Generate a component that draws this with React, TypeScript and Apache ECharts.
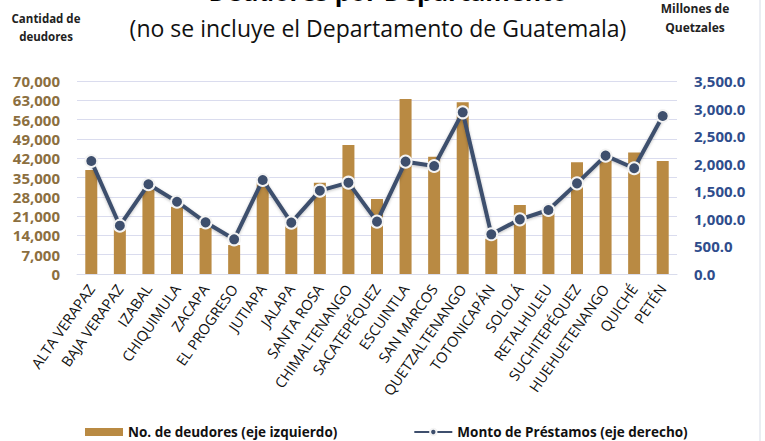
import React, { useEffect, useRef } from "react";
import * as echarts from "echarts";

const categories = [
  "ALTA VERAPAZ", "BAJA VERAPAZ", "IZABAL", "CHIQUIMULA", "ZACAPA", "EL PROGRESO",
  "JUTIAPA", "JALAPA", "SANTA ROSA", "CHIMALTENANGO", "SACATEPÉQUEZ", "ESCUINTLA",
  "SAN MARCOS", "QUETZALTENANGO", "TOTONICAPÁN", "SOLOLÁ", "RETALHULEU",
  "SUCHITEPÉQUEZ", "HUEHUETENANGO", "QUICHÉ", "PETÉN",
];
const deudores = [
  37700, 17000, 30800, 24400, 16700, 10500, 33500, 17400, 33100, 46800, 27200,
  63500, 42500, 62300, 12800, 25000, 22000, 40500, 42000, 44100, 41000,
];
const montos = [
  2050, 876, 1627, 1311, 937, 629, 1705, 931, 1511, 1656, 949, 2037, 1959, 2932,
  720, 991, 1161, 1644, 2146, 1917, 2865,
];
const leftTicks = { min: 0, max: 70000, interval: 7000 };
const rightTicks = { min: 0, max: 3500, interval: 500 };

const FONT = "'Open Sans', Lato, sans-serif";

export default function App() {
  const ref = useRef<HTMLDivElement>(null);
  useEffect(() => {
    if (!ref.current) return;
    document.body.style.margin = "0";
    const chart = echarts.init(ref.current, null, { renderer: "svg" });
    chart.setOption({
      animation: false,
      backgroundColor: "#ffffff",
      textStyle: { fontFamily: FONT },
      grid: { left: 77, right: 88, top: 81, bottom: 167, containLabel: false },
      graphic: [
        {
          type: "text", x: 388, y: 3,
          style: { text: "Deudores por Departamento", font: `bold 25px ${FONT}`, fill: "#000", align: "center", verticalAlign: "bottom" },
        },
        {
          type: "text", x: 378, y: 28,
          style: { text: "(no se incluye el Departamento de Guatemala)", font: `23px ${FONT}`, fill: "#111", align: "center", verticalAlign: "middle" },
        },
        {
          type: "text", x: 46, y: 27,
          style: { text: "Cantidad de\ndeudores", font: `bold 11.5px ${FONT}`, fill: "#222", align: "center", verticalAlign: "middle", lineHeight: 18 },
        },
        {
          type: "text", x: 695, y: 18,
          style: { text: "Millones de\nQuetzales", font: `bold 12px ${FONT}`, fill: "#222", align: "center", verticalAlign: "middle", lineHeight: 19 },
        },
        {
          type: "line", shape: { x1: 760, y1: 0, x2: 760, y2: 441 },
          style: { stroke: "#d6dbe6", lineWidth: 1 },
        },
      ],
      legend: {
        left: 80, top: 420, itemWidth: 38, itemHeight: 8, itemGap: 76,
        textStyle: { fontFamily: FONT, fontWeight: "bold", fontSize: 13.5, color: "#111" },
        data: [
          { name: "No. de deudores (eje izquierdo)", icon: "rect" },
          { name: "Monto de Préstamos (eje derecho)" },
        ],
      },
      xAxis: {
        type: "category",
        data: categories,
        axisLine: { show: true, lineStyle: { color: "#d9dcec", width: 1 } },
        axisTick: { show: false },
        axisLabel: {
          interval: 0, rotate: 55, fontSize: 14.5, color: "#111",
          fontFamily: FONT, margin: 12,
        },
      },
      yAxis: [
        {
          type: "value", ...leftTicks,
          axisLine: { show: false }, axisTick: { show: false },
          splitLine: { lineStyle: { color: "#dadcee", width: 1.2 } },
          axisLabel: {
            color: "#8c6f3f", fontWeight: "bold", fontSize: 15, margin: 17, fontFamily: FONT,
            formatter: (v: number) => v.toLocaleString("en-US"),
          },
        },
        {
          type: "value", ...rightTicks,
          axisLine: { show: false }, axisTick: { show: false },
          splitLine: { show: false },
          axisLabel: {
            color: "#2f4d8c", fontWeight: "bold", fontSize: 15, margin: 17, fontFamily: FONT,
            formatter: (v: number) => v.toLocaleString("en-US", { minimumFractionDigits: 1, maximumFractionDigits: 1 }),
          },
        },
      ],
      series: [
        {
          name: "No. de deudores (eje izquierdo)",
          type: "bar", yAxisIndex: 0, data: deudores, barWidth: "42%",
          itemStyle: { color: "#b98a43" },
        },
        {
          name: "Monto de Préstamos (eje derecho)",
          type: "line", yAxisIndex: 1, data: montos,
          symbol: "circle", symbolSize: 12,
          lineStyle: { color: "#3e4f6d", width: 4, shadowColor: "rgba(0,0,0,0.25)", shadowBlur: 3, shadowOffsetY: 1 },
          itemStyle: { color: "#3e4f6d", borderColor: "#f4f4f4", borderWidth: 2 },
        },
      ],
    });
    return () => chart.dispose();
  }, []);
  return <div ref={ref} style={{ width: 765, height: 441 }} />;
}
